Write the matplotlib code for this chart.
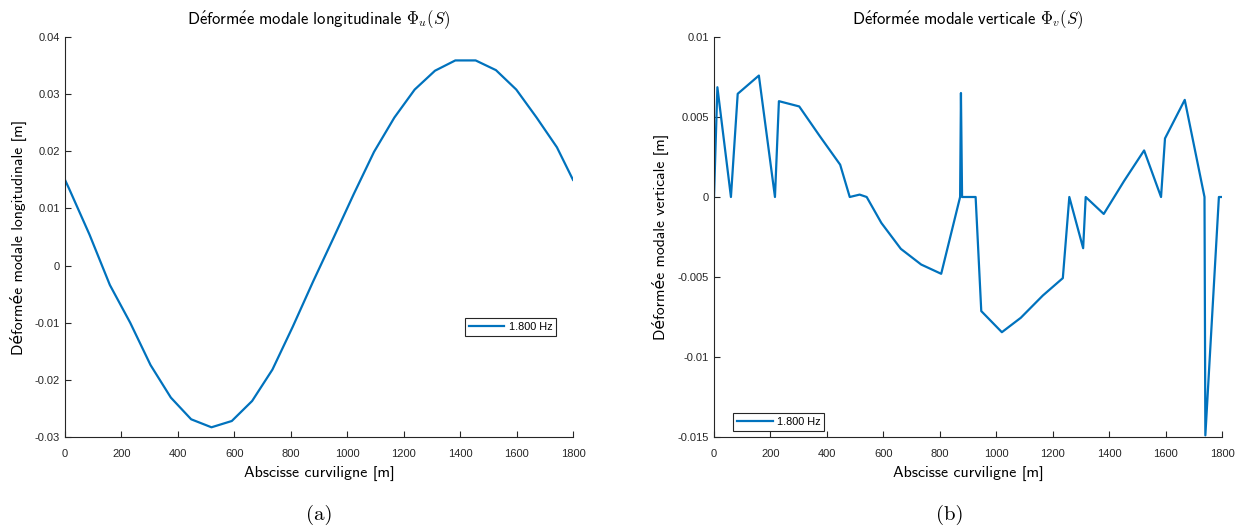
import matplotlib
matplotlib.use("Agg")
import matplotlib.pyplot as plt

# ---- data ----
s_long = [0, 15, 87, 159, 231, 303, 375, 447, 519, 591, 663, 735, 807, 879, 951,
          1023, 1095, 1167, 1239, 1311, 1383, 1455, 1527, 1599, 1671, 1743, 1800]
phi_u = [0.0150, 0.0134, 0.0054, -0.0034, -0.0100, -0.0174, -0.0231, -0.0269, -0.0283,
         -0.0272, -0.0237, -0.0182, -0.0107, -0.0028, 0.0048, 0.0125, 0.0199, 0.0259,
         0.0308, 0.0341, 0.0359, 0.0359, 0.0342, 0.0308, 0.0259, 0.0207, 0.0150]

s_vert = [0, 12, 60, 84, 159, 216, 230, 302, 375, 447, 481, 516, 541, 593, 662, 734,
          805, 872, 875, 879, 927, 947, 1020, 1087, 1165, 1236, 1259, 1308, 1317, 1381,
          1453, 1524, 1584, 1598, 1668, 1738, 1741, 1789, 1800]
phi_v = [0.0, 0.00686, 0.0, 0.00645, 0.00759, 0.0, 0.00599, 0.00566, 0.0038, 0.00202,
         0.0, 0.00015, 0.0, -0.00162, -0.00324, -0.00422, -0.0048, 0.0, 0.0065, 0.0,
         0.0, -0.00713, -0.00845, -0.00755, -0.00616, -0.00507, 0.0, -0.0032, 0.0,
         -0.00106, 0.0010, 0.00291, 0.0, 0.00366, 0.00607, 0.0, -0.0149, 0.0, 0.0]

legend_label = "1.800 Hz"
xticks = [0, 200, 400, 600, 800, 1000, 1200, 1400, 1600, 1800]
yticks_u = [-0.03, -0.02, -0.01, 0, 0.01, 0.02, 0.03, 0.04]
ytick_u_labels = ["-0.03", "-0.02", "-0.01", "0", "0.01", "0.02", "0.03", "0.04"]
yticks_v = [-0.015, -0.01, -0.005, 0, 0.005, 0.01]
ytick_v_labels = ["-0.015", "-0.01", "-0.005", "0", "0.005", "0.01"]

LINE = "#0072BD"
AXC = "#262626"
TICKFONT = ["Liberation Sans", "DejaVu Sans"]
LABFONT = ["cmss10", "DejaVu Sans"]

plt.rcParams["mathtext.fontset"] = "cm"
plt.rcParams["axes.unicode_minus"] = False

fig = plt.figure(figsize=(12.36, 5.29), dpi=100)
axL = fig.add_axes([65/1236, 92/529, 508/1236, 400/529])
axR = fig.add_axes([714/1236, 92/529, 508/1236, 400/529])


def style(ax):
    for sp in ["top", "right"]:
        ax.spines[sp].set_visible(False)
    for sp in ["left", "bottom"]:
        ax.spines[sp].set_color(AXC)
        ax.spines[sp].set_linewidth(0.8)
    ax.tick_params(direction="in", length=4, width=0.8, color=AXC,
                   labelsize=8, labelcolor=AXC)
    ax.tick_params(axis="x", pad=8.5)
    for lab in ax.get_xticklabels() + ax.get_yticklabels():
        lab.set_family(TICKFONT)
    ax.set_xlim(0, 1800)
    ax.set_xlabel("Abscisse curviligne [m]", family=LABFONT, fontsize=11.5, labelpad=5)


legkw = dict(fancybox=False, edgecolor=AXC, framealpha=1,
             prop={"family": TICKFONT, "size": 7.8}, handlelength=3.3,
             borderpad=0.35, handletextpad=0.4, borderaxespad=0)

axL.plot(s_long, phi_u, color=LINE, lw=1.6, label=legend_label)
axL.set_ylim(-0.03, 0.04)
axL.set_xticks(xticks)
axL.set_yticks(yticks_u)
axL.set_yticklabels(ytick_u_labels)
style(axL)
axL.set_ylabel("Déformée modale longitudinale [m]", family=LABFONT, fontsize=11.3, labelpad=6)
axL.set_title(r"$\mathsf{D\acute{e}form\acute{e}e\ modale\ longitudinale}\ \Phi_u(S)$",
              fontsize=12, pad=9)
legL = axL.legend(loc="upper left", bbox_to_anchor=(0.787, 0.2975), **legkw)
legL.get_frame().set_linewidth(0.8)

axR.plot(s_vert, phi_v, color=LINE, lw=1.6, label=legend_label)
axR.set_ylim(-0.015, 0.01)
axR.set_xticks(xticks)
axR.set_yticks(yticks_v)
axR.set_yticklabels(ytick_v_labels)
style(axR)
axR.set_ylabel("Déformée modale verticale [m]", family=LABFONT, fontsize=11.3, labelpad=6)
axR.set_title(r"$\mathsf{D\acute{e}form\acute{e}e\ modale\ verticale}\ \Phi_v(S)$",
              fontsize=12, pad=9)
legR = axR.legend(loc="lower left", bbox_to_anchor=(0.0374, 0.015), **legkw)
legR.get_frame().set_linewidth(0.8)

fig.text(319/1236, 1 - 515/529, "(a)", family=["cmr10", "DejaVu Serif"], fontsize=15,
         ha="center", va="center")
fig.text(950/1236, 1 - 515/529, "(b)", family=["cmr10", "DejaVu Serif"], fontsize=15,
         ha="center", va="center")

fig.savefig("out.png", dpi=100)
